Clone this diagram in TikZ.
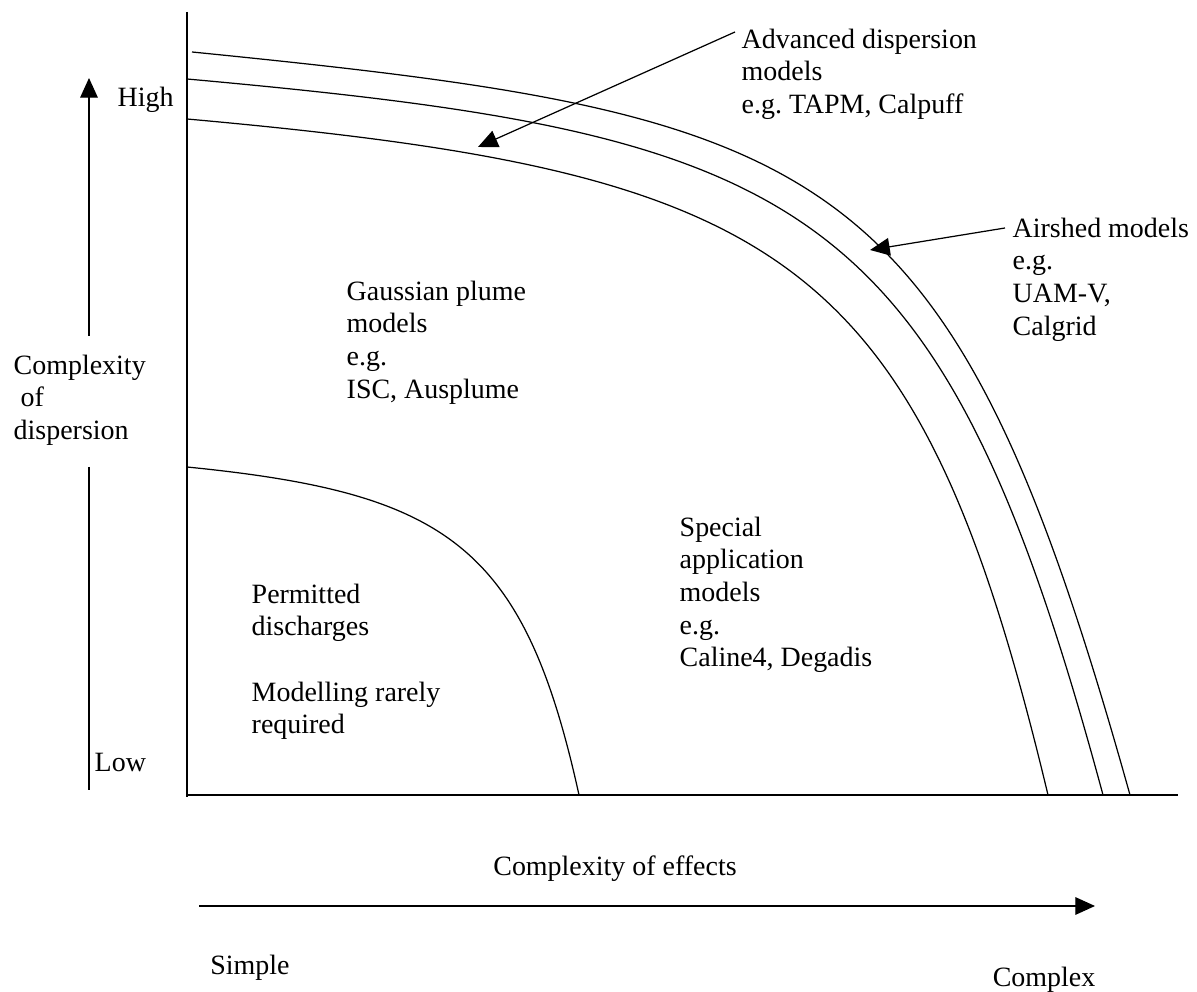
\documentclass[tikz,border=0pt]{standalone}
\usepackage{fontspec}
\setmainfont{Liberation Serif}
\usetikzlibrary{arrows.meta}

\tikzset{
  axis/.style={line width=0.35pt},
  curve/.style={line width=0.35pt},
  pointer/.style={line width=0.35pt, -{Triangle[length=5.6pt,width=5pt]}},
  txt/.style={inner sep=0pt, anchor=north west, align=left, font=\fontsize{7.95}{9.3}\selectfont\frenchspacing},
}

\begin{document}
\begin{tikzpicture}[x=0.01cm,y=-0.01cm]
\useasboundingbox (0,0) rectangle (1197,992);
% axes
\draw[axis] (187,12) -- (187,797);
\draw[axis] (187,795) -- (1178,795);
% region boundaries
\draw[curve] (192,52) .. controls (832,116) and (951,155) .. (1130,795);
\draw[curve] (187,79) .. controls (807,135) and (941,195) .. (1103,795);
\draw[curve] (187,119) .. controls (787,173) and (918,252) .. (1048,795);
\draw[curve] (187,467) .. controls (447,493) and (524,545) .. (579,795);
% region labels
\node[txt] (adv) at (741,28) {Advanced dispersion\\models\\e.g. TAPM, Calpuff};
\node[txt] (airshed) at (1012,217) {Airshed models\\e.g.\\UAM-V,\\Calgrid};
\node[txt] (gauss) at (346,280) {Gaussian plume\\models\\e.g.\\ISC, Ausplume};
\node[txt] (permit) at (251,583) {Permitted\\discharges\\[9.3pt]Modelling rarely\\required};
\node[txt] (special) at (679,516) {Special\\application\\models\\e.g.\\Caline4, Degadis};
% pointers
\coordinate (advtail) at (735,32);
\coordinate (advtip) at (478,147);
\coordinate (airtail) at (1005,228);
\coordinate (airtip) at (870,250);
\draw[pointer] (advtail) -- (advtip);
\draw[pointer] (airtail) -- (airtip);
% vertical scale
\node[txt] (cxdisp) at (13,354) {Complexity\\~of\\dispersion};
\node[txt, anchor=west] (high) at (117,100) {High};
\node[txt, anchor=west] (low) at (94,762) {Low};
\coordinate (vtop) at (89,78);
\coordinate (vbot) at (89,790);
\draw[pointer] (vtop |- 0,336) -- (vtop);
\draw[axis] (vbot |- 0,467) -- (vbot);
% horizontal scale
\node[txt, anchor=center] (cxeff) at (615,869) {Complexity of effects};
\coordinate (hleft) at (199,906);
\coordinate (hright) at (1095,906);
\draw[pointer] (hleft) -- (hright);
\node[txt, anchor=center] (simple) at (250,968) {Simple};
\node[txt, anchor=center] (complex) at (1044,980) {Complex};
\end{tikzpicture}
\end{document}
